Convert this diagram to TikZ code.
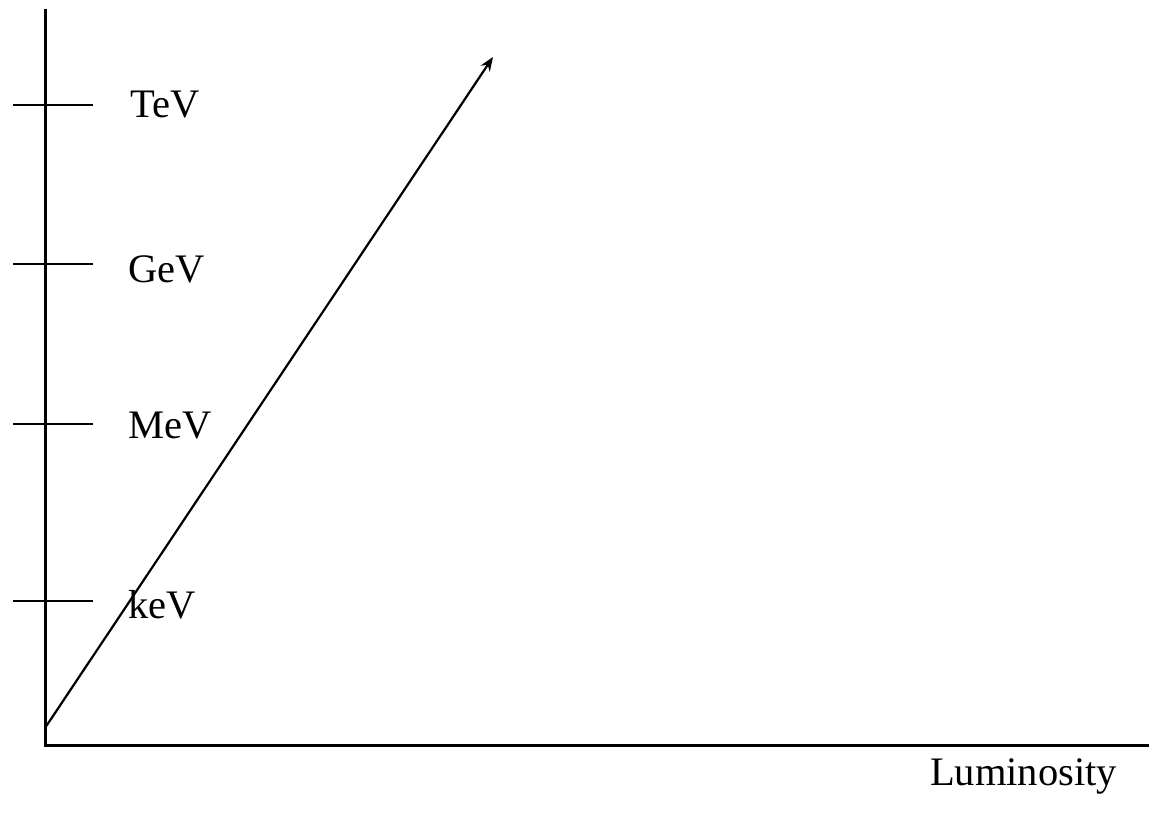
\documentclass[tikz,border=0pt]{standalone}
\usepackage{fontspec}
\setmainfont{Liberation Serif}
\usetikzlibrary{arrows.meta}
\begin{document}
\begin{tikzpicture}[x=1pt,y=-1pt,
  axisline/.style={line width=3pt},
  tickline/.style={line width=2.6pt},
  lab/.style={anchor=base west,inner sep=0pt,font=\fontsize{40.5}{48}\selectfont}]
\useasboundingbox (0,0) rectangle (1149,818);
\coordinate (ytop) at (45,9);
\coordinate (origin) at (45,745);
\coordinate (xend) at (1149,745);
\draw[axisline] (ytop) -- (origin) -- (xend);
\foreach \n/\y in {t/105,g/264,m/424,k/601}{
  \coordinate (\n a) at (13,\y);
  \coordinate (\n b) at (93,\y);
  \draw[tickline] (\n a) -- (\n b);
}
\node[lab] (tev) at (130,118) {TeV};
\node[lab] (gev) at (128,283) {GeV};
\node[lab] (mev) at (128,438) {MeV};
\node[lab] (kev) at (128,618) {keV};
\node[lab] (lum) at (930,785) {Luminosity};
\coordinate (as) at (45,728);
\coordinate (ae) at (493,57);
\draw[line width=2.2pt,-{Stealth[length=14pt,width=11pt]}] (as) -- (ae);
\end{tikzpicture}
\end{document}
